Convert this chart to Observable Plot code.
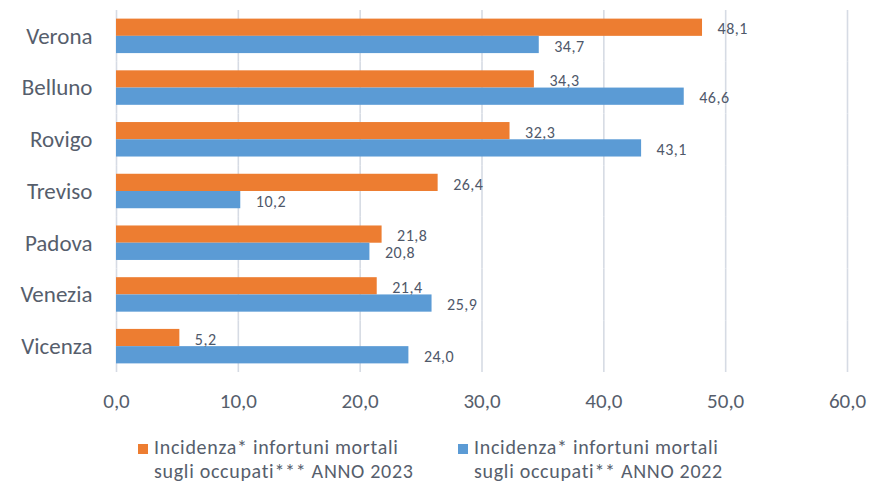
<!DOCTYPE html>
<html>
<head>
<meta charset="utf-8">
<script src="https://cdn.jsdelivr.net/npm/d3@7"></script>
<script src="https://cdn.jsdelivr.net/npm/@observablehq/plot@0.6"></script>
<style>
  body { margin: 0; background: #fff; font-family: Carlito, Lato, "Liberation Sans", sans-serif; }
  #wrap { position: relative; width: 871px; height: 482px; overflow: hidden; }
  .leg { position: absolute; font-size: 20px; line-height: 24px; letter-spacing: 0.7px; color: #565e6c; white-space: nowrap; }
  .sw { position: absolute; width: 10px; height: 10px; }
  svg g[aria-label="fy-axis tick label"] { font-size: 23px; }
  svg g[aria-label="text"] { letter-spacing: 0.5px; }
</style>
</head>
<body>
<div id="wrap">
  <div id="chart"></div>
  <div class="sw" style="left:138px; top:444px; background:#ED7D31;"></div>
  <div class="leg" style="left:154px; top:435px;">Incidenza* infortuni mortali<br>sugli occupati*** ANNO 2023</div>
  <div class="sw" style="left:458px; top:444px; background:#5B9BD5;"></div>
  <div class="leg" style="left:474px; top:435px;">Incidenza* infortuni mortali<br>sugli occupati** ANNO 2022</div>
</div>
<script>
const regions = ["Verona", "Belluno", "Rovigo", "Treviso", "Padova", "Venezia", "Vicenza"];
const v2023 = [48.1, 34.3, 32.3, 26.4, 21.8, 21.4, 5.2];
const v2022 = [34.7, 46.6, 43.1, 10.2, 20.8, 25.9, 24.0];
const series = ["2023", "2022"];
const xTicks = [0, 10, 20, 30, 40, 50, 60];

const data = [];
regions.forEach((r, i) => {
  data.push({region: r, series: "2023", value: v2023[i]});
  data.push({region: r, series: "2022", value: v2022[i]});
});
const fmt = d => d.toFixed(1).replace(".", ",");

const chart = Plot.plot({
  width: 871,
  height: 420,
  marginLeft: 116,
  marginRight: 24,
  marginTop: 10,
  marginBottom: 48,
  style: {fontFamily: "Carlito, Lato, 'Liberation Sans', sans-serif", fontSize: "21px", color: "#565e6c", background: "#fff"},
  x: {domain: [0, 60], ticks: xTicks, tickFormat: fmt, tickSize: 0, tickPadding: 21, label: null},
  y: {domain: series, axis: null, paddingInner: 0, paddingOuter: 0.5, round: false},
  fy: {domain: regions, padding: 0, round: false, label: null, tickSize: 0, tickPadding: 24},
  color: {domain: series, range: ["#ED7D31", "#5B9BD5"]},
  marks: [
    Plot.gridX(xTicks, {stroke: "#d6dbe4", strokeOpacity: 1, strokeWidth: 1.6}),
    Plot.barX(data, {x: "value", y: "series", fy: "region", fill: "series"}),
    Plot.text(data, {x: "value", y: "series", fy: "region", text: d => fmt(d.value), textAnchor: "start", dx: 15, dy: 1.5, fontSize: 16, fill: "#4f586a"})
  ]
});
document.getElementById("chart").appendChild(chart);
</script>
</body>
</html>
